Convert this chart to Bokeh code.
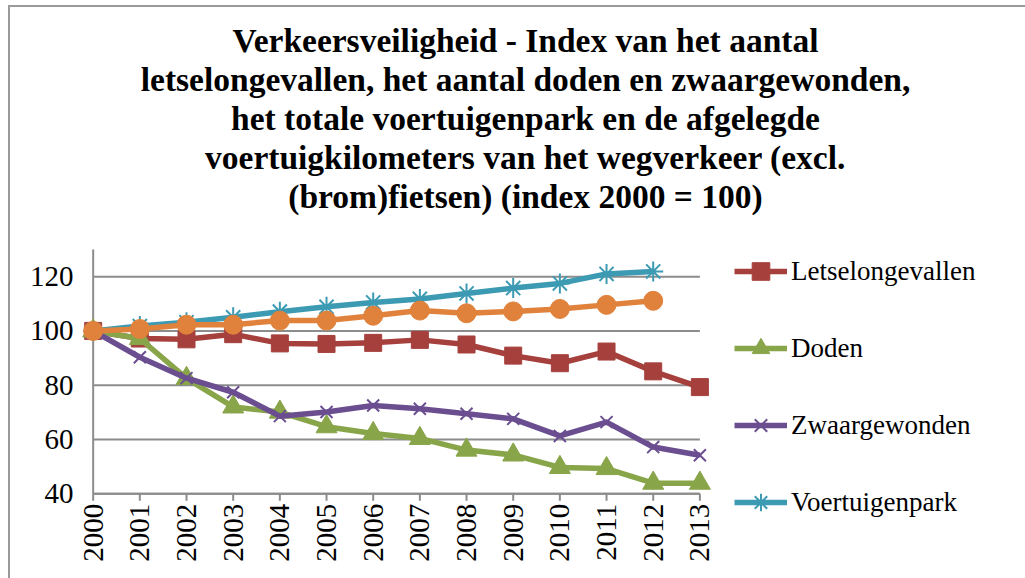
import math
from bokeh.plotting import figure
from bokeh.models import Range1d, FixedTicker, Legend, LegendItem, Title
from bokeh.embed import file_html
from bokeh.resources import INLINE
from bokeh.core.properties import value

# ---- data -------------------------------------------------------------
years = [2000, 2001, 2002, 2003, 2004, 2005, 2006, 2007, 2008, 2009, 2010, 2011, 2012, 2013]
letselongevallen = [100, 97.2, 96.9, 98.8, 95.4, 95.2, 95.6, 96.7, 95.0, 90.9, 88.1, 92.4, 85.1, 79.3]
doden = [100, 97.2, 82.5, 72.0, 70.1, 64.7, 62.2, 60.4, 56.1, 54.3, 49.7, 49.3, 43.9, 43.9]
zwaargewonden = [100, 90.3, 82.6, 77.4, 68.6, 70.1, 72.5, 71.3, 69.5, 67.6, 61.3, 66.4, 57.2, 54.2]
voertuigenpark = [100, 101.8, 103.2, 105.0, 107.1, 108.9, 110.5, 111.8, 113.8, 115.8, 117.5, 121.0, 121.9]
voertuigkilometers = [100, 100.7, 102.3, 102.3, 103.8, 103.8, 105.6, 107.5, 106.5, 107.2, 108.1, 109.6, 111.1]

y_ticks = [40, 60, 80, 100, 120]
Y_AXIS_MAX = 130
year_labels = [str(y) for y in years]

title_lines = [
    "Verkeersveiligheid - Index van het aantal",
    "letselongevallen, het aantal doden en zwaargewonden,",
    "het totale voertuigenpark en de afgelegde",
    "voertuigkilometers van het wegverkeer (excl.",
    "(brom)fietsen) (index 2000 = 100)",
]

# ---- styling / layout -------------------------------------------------
SERIF = "Liberation Serif"
GRID = "#8c8c8c"
C_RED = "#a5403d"
C_GREEN = "#89a54a"
C_PURPLE = "#6b4e90"
C_TEAL = "#3c9ab3"
C_ORANGE = "#e0823b"

PX_PER_YEAR = 46.67
PX_PER_UNIT = 2.714
FRAME_W, FRAME_H = 902, 364
TOP, LEFT = 207, 64
x_start = years[0] - 0.4
x_end = x_start + FRAME_W / PX_PER_YEAR          # free room on the right for the legend
y_end = Y_AXIS_MAX + 35 / PX_PER_UNIT             # room between plot and title
y_start = y_end - FRAME_H / PX_PER_UNIT           # room below for the year labels
TICK_LEN = 7 / PX_PER_UNIT

p = figure(
    frame_width=FRAME_W, frame_height=FRAME_H,
    x_range=Range1d(x_start, x_end),
    y_range=Range1d(y_start, y_end),
    output_backend="svg", toolbar_location=None,
    min_border_left=LEFT, min_border_right=49,
    min_border_top=TOP, min_border_bottom=0,
)
p.styles = {"margin-top": "5px", "margin-left": "8px",
            "border-top": "2px solid #9a9a9a", "border-left": "2px solid #9a9a9a"}
p.background_fill_color = "white"
p.border_fill_color = "white"
p.outline_line_color = None
p.grid.visible = False
p.xaxis.visible = False

# title: one Title per line, last line nearest to the plot
for line in reversed(title_lines):
    p.add_layout(Title(text=line, align="center", text_font=SERIF,
                       text_font_style="bold", text_font_size="33.5px",
                       text_color="black", standoff=0), "above")

# y axis (labels only; line drawn below)
p.yaxis.ticker = FixedTicker(ticks=y_ticks)
p.yaxis.axis_line_color = None
p.yaxis.major_tick_line_color = None
p.yaxis.minor_tick_line_color = None
p.yaxis.major_tick_out = 0
p.yaxis.major_tick_in = 0
p.yaxis.major_label_standoff = 1
p.yaxis.major_label_text_font = SERIF
p.yaxis.major_label_text_font_size = "29px"
p.yaxis.major_label_text_color = "black"

# gridlines and axis lines (span 2000..2013 only)
p.segment(x0=[years[0]] * len(y_ticks), x1=[years[-1]] * len(y_ticks),
          y0=y_ticks, y1=y_ticks, line_color=GRID, line_width=2)
p.segment(x0=[years[0]], x1=[years[0]], y0=[y_ticks[0]], y1=[Y_AXIS_MAX],
          line_color=GRID, line_width=2)
p.segment(x0=[years[0]], x1=[years[-1]], y0=[y_ticks[0]], y1=[y_ticks[0]],
          line_color=GRID, line_width=2)
# x tick marks and rotated year labels
p.segment(x0=years, x1=years, y0=[y_ticks[0]] * len(years),
          y1=[y_ticks[0] - TICK_LEN] * len(years), line_color=GRID, line_width=2)
p.text(x=years, y=[y_ticks[0]] * len(years), text=year_labels,
       angle=math.pi / 2, text_align="right", text_baseline="middle",
       y_offset=10, text_font=value(SERIF), text_font_size="29px",
       text_color="black")

# series
series = [
    ("Letselongevallen", letselongevallen, C_RED, "square", 17, 1),
    ("Doden", doden, C_GREEN, "triangle", 21, 1),
    ("Zwaargewonden", zwaargewonden, C_PURPLE, "x", 17, 2),
    ("Voertuigenpark", voertuigenpark, C_TEAL, "asterisk", 20, 2),
    ("Voertuigkilometers", voertuigkilometers, C_ORANGE, "circle", 19, 1),
]

items = []
for name, vals, col, marker, size, mlw in series:
    xs = years[:len(vals)]
    r1 = p.line(xs, vals, line_color=col, line_width=5.5, line_join="round")
    r2 = p.scatter(xs, vals, marker=marker, size=size, fill_color=col,
                   line_color=col, line_width=mlw)
    if name != "Voertuigkilometers":
        items.append(LegendItem(label=name, renderers=[r1, r2]))

legend = Legend(
    items=items, location=(660, 54),
    margin=0, padding=0, spacing=33,
    glyph_width=53, glyph_height=44, label_height=44,
    label_standoff=4,
    label_text_font=SERIF, label_text_font_size="27px", label_text_color="black",
    border_line_color=None, background_fill_alpha=0,
)
p.add_layout(legend)

open("out.html", "w").write(file_html(p, INLINE))
